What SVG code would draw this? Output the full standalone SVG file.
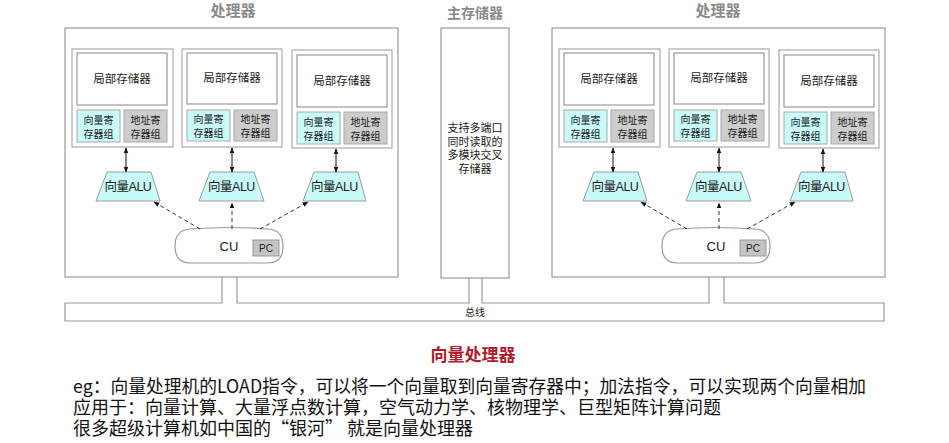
<svg xmlns="http://www.w3.org/2000/svg" width="949" height="443" viewBox="0 0 949 443">
<style>
.box{fill:#fff;stroke:#9a9a9a;stroke-width:1.2}
.pe{fill:#fff;stroke:#aaa;stroke-width:1.2}
.vreg{fill:#c9fbfb;stroke:#a9a9a9;stroke-width:1}
.areg{fill:#cdcdcd;stroke:#a9a9a9;stroke-width:1}
.alu{fill:#c9fbfb;stroke:#9a9a9a;stroke-width:1}
.t{font-family:"Liberation Sans","Noto Sans CJK SC",sans-serif;fill:#1a1a1a;text-anchor:middle}
.title{font-family:"Noto Sans CJK SC",sans-serif;fill:#8a8a8a;font-weight:bold;text-anchor:middle}
.solid{stroke:#111;stroke-width:1;fill:none}
.dash{stroke:#333;stroke-width:1;fill:none;stroke-dasharray:4 3}
.bus{stroke:#999;stroke-width:1.2;fill:none}
.body{font-family:"Noto Sans CJK SC",sans-serif;font-size:18px;fill:#111}
</style>
<defs>
<marker id="ah" viewBox="0 0 10 10" refX="9" refY="5" markerWidth="6" markerHeight="6" orient="auto-start-reverse" markerUnits="userSpaceOnUse">
<path d="M0,1 L10,5 L0,9 Z" fill="#111"/>
</marker>
<g id="procTpl">
<rect class="box" x="65" y="28" width="333" height="249"/>
<rect class="pe" x="72" y="49" width="101" height="98"/>
<rect class="box" x="77" y="53" width="90" height="52"/>
<rect class="vreg" x="77" y="110" width="43" height="32"/>
<rect class="areg" x="124" y="110" width="43" height="32"/>
<text class="t" x="122" y="83" font-size="11.5">局部存储器</text>
<text class="t" x="98.5" y="124" font-size="10">向量寄</text>
<text class="t" x="98.5" y="138" font-size="10">存器组</text>
<text class="t" x="145.5" y="124" font-size="10">地址寄</text>
<text class="t" x="145.5" y="138" font-size="10">存器组</text>
<rect class="pe" x="182" y="49" width="100" height="98"/>
<rect class="box" x="187" y="53" width="90" height="51"/>
<rect class="vreg" x="187" y="110" width="43" height="31"/>
<rect class="areg" x="234" y="110" width="43" height="31"/>
<text class="t" x="232" y="82" font-size="11.5">局部存储器</text>
<text class="t" x="208.5" y="123" font-size="10">向量寄</text>
<text class="t" x="208.5" y="137" font-size="10">存器组</text>
<text class="t" x="255.5" y="123" font-size="10">地址寄</text>
<text class="t" x="255.5" y="137" font-size="10">存器组</text>
<rect class="pe" x="292" y="50" width="100" height="98"/>
<rect class="box" x="297" y="55" width="90" height="52"/>
<rect class="vreg" x="297" y="112" width="43" height="32"/>
<rect class="areg" x="344" y="112" width="43" height="32"/>
<text class="t" x="342" y="85" font-size="11.5">局部存储器</text>
<text class="t" x="318.5" y="126" font-size="10">向量寄</text>
<text class="t" x="318.5" y="140" font-size="10">存器组</text>
<text class="t" x="365.5" y="126" font-size="10">地址寄</text>
<text class="t" x="365.5" y="140" font-size="10">存器组</text>
<polygon class="alu" points="107,172 151,172 160,201 96,201"/>
<polygon class="alu" points="210,172 254,172 264,201 199,201"/>
<polygon class="alu" points="314,172 358,172 366,201 303,201"/>
<text class="t" x="128" y="191" font-size="12.5" letter-spacing="-0.5">向量ALU</text>
<text class="t" x="231.5" y="191" font-size="12.5" letter-spacing="-0.5">向量ALU</text>
<text class="t" x="334.5" y="191" font-size="12.5" letter-spacing="-0.5">向量ALU</text>
<path class="box" d="M190,229 Q229,226 268,229 Q283,230 283,246 Q283,263 268,263 L190,263 Q175,263 175,246 Q175,230 190,229 Z"/>
<text class="t" x="229" y="251" font-size="13">CU</text>
<rect x="253" y="240" width="26" height="16" fill="#c4c4c4" stroke="#999" stroke-width="1"/>
<text class="t" x="266" y="252" font-size="10">PC</text>
<line class="solid" x1="126" y1="148" x2="126" y2="172" marker-start="url(#ah)" marker-end="url(#ah)"/>
<line class="solid" x1="232" y1="148" x2="232" y2="172" marker-start="url(#ah)" marker-end="url(#ah)"/>
<line class="solid" x1="336" y1="149" x2="336" y2="172" marker-start="url(#ah)" marker-end="url(#ah)"/>
<line class="dash" x1="200" y1="229" x2="154" y2="202" marker-end="url(#ah)"/>
<line class="dash" x1="232" y1="229" x2="232" y2="203" marker-end="url(#ah)"/>
<line class="dash" x1="260" y1="229" x2="308" y2="202" marker-end="url(#ah)"/>
</g>
</defs>
<rect width="949" height="443" fill="#fff"/>
<g id="processor-left">
<text class="title" x="233" y="16" font-size="15">处理器</text>
<use href="#procTpl"/>
</g>
<g id="main-memory">
<text class="title" x="475" y="18" font-size="14">主存储器</text>
<rect class="box" x="441" y="28" width="68" height="250"/>
<text class="t" x="475" y="132" font-size="11">支持多端口</text>
<text class="t" x="475" y="146" font-size="11">同时读取的</text>
<text class="t" x="475" y="159" font-size="11">多模块交叉</text>
<text class="t" x="475" y="173" font-size="11">存储器</text>
</g>
<g id="processor-right">
<text class="title" x="718" y="16" font-size="15">处理器</text>
<use href="#procTpl" transform="translate(487,0)"/>
</g>
<g id="bus">
<path class="bus" d="M222,277 L222,303 L65,303 L65,321 L884,321 L884,303 L724,303 L724,277 M709,277 L709,303 L482,303 L482,278 M469,278 L469,303 L237,303 L237,277"/>
<text class="t" x="475" y="316" font-size="10">总线</text>
</g>
<g id="connectors"></g>
<text x="473" y="361" font-family="Noto Sans CJK SC,sans-serif" font-size="17" font-weight="bold" fill="#b01a2e" text-anchor="middle">向量处理器</text>
<text class="body" x="73" y="393" textLength="793" lengthAdjust="spacingAndGlyphs">eg：向量处理机的LOAD指令，可以将一个向量取到向量寄存器中；加法指令，可以实现两个向量相加</text>
<text class="body" x="73" y="414">应用于：向量计算、大量浮点数计算，空气动力学、核物理学、巨型矩阵计算问题</text>
<text class="body" x="73" y="435">很多超级计算机如中国的“银河” 就是向量处理器</text>
</svg>
